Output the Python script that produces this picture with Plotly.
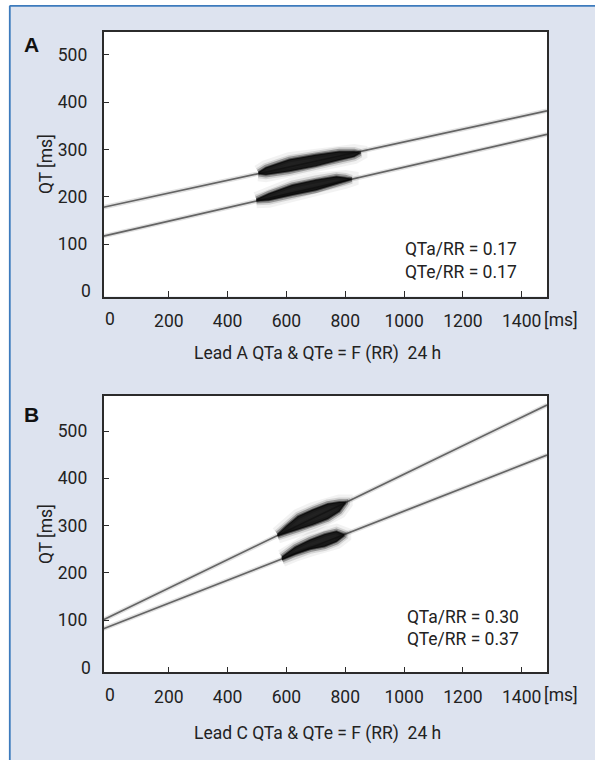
import plotly.graph_objects as go

# ---------------- data ----------------
RR_TICKS = [0, 200, 400, 600, 800, 1000, 1200, 1400]
RR_TICK_TEXT = ["0", "200", "400", "600", "800", "1000", "1200", "1400"]
QT_TICKS = [0, 100, 200, 300, 400, 500]
QT_TICK_TEXT = ["0", "100", "200", "300", "400", "500"]

# regression lines (end points at the plot edges), panel A
RR_LINE_A = [-22, 1486]
QTE_LINE_A = [178, 382]
QTA_LINE_A = [117, 332]
# panel B
RR_LINE_B = [-22, 1486]
QTE_LINE_B = [101, 555]
QTA_LINE_B = [82, 449]

# dense clusters of beats (outline: RR, upper QT, lower QT)
A_QTE_RR = [505, 530, 610, 700, 780, 830, 850]
A_QTE_TOP = [252, 262, 279, 289, 296, 296, 294]
A_QTE_BOT = [249, 247, 254, 265, 278, 285, 292]
A_QTA_RR = [498, 540, 620, 700, 770, 800, 820]
A_QTA_TOP = [195, 207, 225, 236, 243, 241, 239]
A_QTA_BOT = [192, 193, 204, 214, 228, 233, 237]

B_QTE_RR = [570, 600, 640, 690, 740, 780, 800]
B_QTE_TOP = [282, 300, 320, 334, 346, 350, 350]
B_QTE_BOT = [278, 284, 292, 302, 314, 330, 347]
B_QTA_RR = [585, 630, 680, 730, 770, 795]
B_QTA_TOP = [234, 255, 270, 282, 288, 282]
B_QTA_BOT = [228, 240, 250, 256, 266, 278]

SLOPES_A = ["QTa/RR = 0.17", "QTe/RR = 0.17"]
SLOPES_B = ["QTa/RR = 0.30", "QTe/RR = 0.37"]
TITLE_A = "Lead A QTa & QTe = F (RR)\u00a0\u00a024 h"
TITLE_B = "Lead C QTa & QTe = F (RR)\u00a0\u00a024 h"

# ---------------- layout constants ----------------
W, H = 595, 760
FONT = "Roboto, Liberation Sans, Arial, sans-serif"
FS = 17.5
BG = "#dde3ef"
AX = "#2b2b2b"


def px(x):
    return x / W


def py(y):
    return 1 - y / H


fig = go.Figure()


def add_panel(xa, ya, rr_line, qte_line, qta_line, blobs):
    for q in (qte_line, qta_line):
        fig.add_trace(go.Scatter(x=rr_line, y=q, xaxis=xa, yaxis=ya, mode="lines",
                                 line=dict(color="rgba(0,0,0,0.12)", width=4.5),
                                 hoverinfo="skip", showlegend=False))
        fig.add_trace(go.Scatter(x=rr_line, y=q, xaxis=xa, yaxis=ya, mode="lines",
                                 line=dict(color="#646464", width=1.7),
                                 hoverinfo="skip", showlegend=False))
    for rr, top, bot in blobs:
        xs = list(rr) + list(rr)[::-1]
        ys = list(top) + list(bot)[::-1]
        for fc, lc, lw in (("rgba(0,0,0,0.04)", "rgba(0,0,0,0.05)", 15),
                           ("rgba(0,0,0,0.08)", "rgba(0,0,0,0.12)", 9),
                           ("rgba(0,0,0,0.40)", "rgba(0,0,0,0.30)", 5.5),
                           ("rgba(15,15,15,0.82)", "rgba(0,0,0,0.5)", 2)):
            fig.add_trace(go.Scatter(x=xs, y=ys, xaxis=xa, yaxis=ya, mode="lines",
                                     fill="toself", fillcolor=fc,
                                     line=dict(color=lc, width=lw),
                                     hoverinfo="skip", showlegend=False))


add_panel("x", "y", RR_LINE_A, QTE_LINE_A, QTA_LINE_A,
          [(A_QTE_RR, A_QTE_TOP, A_QTE_BOT), (A_QTA_RR, A_QTA_TOP, A_QTA_BOT)])
add_panel("x2", "y2", RR_LINE_B, QTE_LINE_B, QTA_LINE_B,
          [(B_QTE_RR, B_QTE_TOP, B_QTE_BOT), (B_QTA_RR, B_QTA_TOP, B_QTA_BOT)])

# the zero ticks are not drawn in the original; their labels are added as annotations
xdom = [px(103.5), px(547)]
xcommon = dict(range=[-22, 1486], tickvals=RR_TICKS[1:], ticktext=RR_TICK_TEXT[1:],
               ticks="inside", ticklen=6, tickwidth=1.3, tickcolor=AX,
               showline=True, linecolor=AX, linewidth=1.5, mirror=True,
               showgrid=False, zeroline=False, ticklabelstandoff=8,
               tickfont=dict(family=FONT, size=FS, color="#222"))
ycommon = dict(tickvals=QT_TICKS[1:], ticktext=QT_TICK_TEXT[1:],
               ticks="inside", ticklen=6, tickwidth=1.3, tickcolor=AX,
               showline=True, linecolor=AX, linewidth=1.5, mirror=True,
               showgrid=False, zeroline=False, ticklabelstandoff=11,
               tickfont=dict(family=FONT, size=FS, color="#222"))

fig.update_layout(
    width=W, height=H,
    margin=dict(l=0, r=0, t=0, b=0),
    paper_bgcolor=BG, plot_bgcolor="white",
    xaxis=dict(domain=xdom, anchor="y", **xcommon),
    yaxis=dict(domain=[py(296.5), py(32)], anchor="x", range=[-10.6, 548.6], **ycommon),
    xaxis2=dict(domain=xdom, anchor="y2", **xcommon),
    yaxis2=dict(domain=[py(672.3), py(396)], anchor="x2", range=[-10, 574], **ycommon),
    showlegend=False,
)

# frame: white strips + blue border lines
shapes = [
    dict(type="rect", xref="paper", yref="paper", x0=0, x1=px(9), y0=0, y1=1,
         fillcolor="white", line=dict(width=0)),
    dict(type="rect", xref="paper", yref="paper", x0=0, x1=1, y0=py(5), y1=1,
         fillcolor="white", line=dict(width=0)),
    dict(type="line", xref="paper", yref="paper", x0=px(9.8), x1=px(9.8), y0=0, y1=py(5.8),
         line=dict(color="#3d7bbd", width=1.8)),
    dict(type="line", xref="paper", yref="paper", x0=px(9.8), x1=1, y0=py(5.8), y1=py(5.8),
         line=dict(color="#3d7bbd", width=1.8)),
]
fig.update_layout(shapes=shapes)

ann = []


def txt(x, y, text, size=FS, xanchor="center", bold=False, angle=0):
    ann.append(dict(xref="paper", yref="paper", x=px(x), y=py(y), text=text,
                    showarrow=False, xanchor=xanchor, yanchor="middle",
                    textangle=angle,
                    font=dict(family="Liberation Sans, Arial, sans-serif" if bold else FONT,
                              size=size, color="#111" if bold else "#222")))


def zero_labels(xa, ya, x_label_y):
    # "0" on the RR axis, placed with the axis' own data scale
    ann.append(dict(xref=xa, yref="paper", x=RR_TICKS[0], y=py(x_label_y),
                    text=RR_TICK_TEXT[0], showarrow=False, xanchor="center", yanchor="middle",
                    font=dict(family=FONT, size=FS, color="#222")))
    # "0" on the QT axis
    ann.append(dict(xref="paper", yref=ya, x=px(92.5), y=QT_TICKS[0],
                    text=QT_TICK_TEXT[0], showarrow=False, xanchor="right", yanchor="middle",
                    font=dict(family=FONT, size=FS, color="#222")))


# panel A
txt(31, 44.5, "<b>A</b>", size=21, bold=True)
txt(46, 164, "QT [ms]", angle=-90)
txt(519, 249, SLOPES_A[0], xanchor="right")
txt(519, 271.5, SLOPES_A[1], xanchor="right")
txt(542, 319.5, "[ms]", xanchor="left")
txt(317, 353, TITLE_A)
zero_labels("x", "y", 319)
# panel B
txt(31, 414, "<b>B</b>", size=21, bold=True)
txt(46, 534, "QT [ms]", angle=-90)
txt(521, 616.5, SLOPES_B[0], xanchor="right")
txt(521, 638.5, SLOPES_B[1], xanchor="right")
txt(542, 695, "[ms]", xanchor="left")
txt(317, 733, TITLE_B)
zero_labels("x2", "y2", 694.5)

fig.update_layout(annotations=ann)

fig.write_html("out.html", config={"displayModeBar": False},
               post_script="document.body.style.margin='0';document.body.style.overflow='hidden';")
